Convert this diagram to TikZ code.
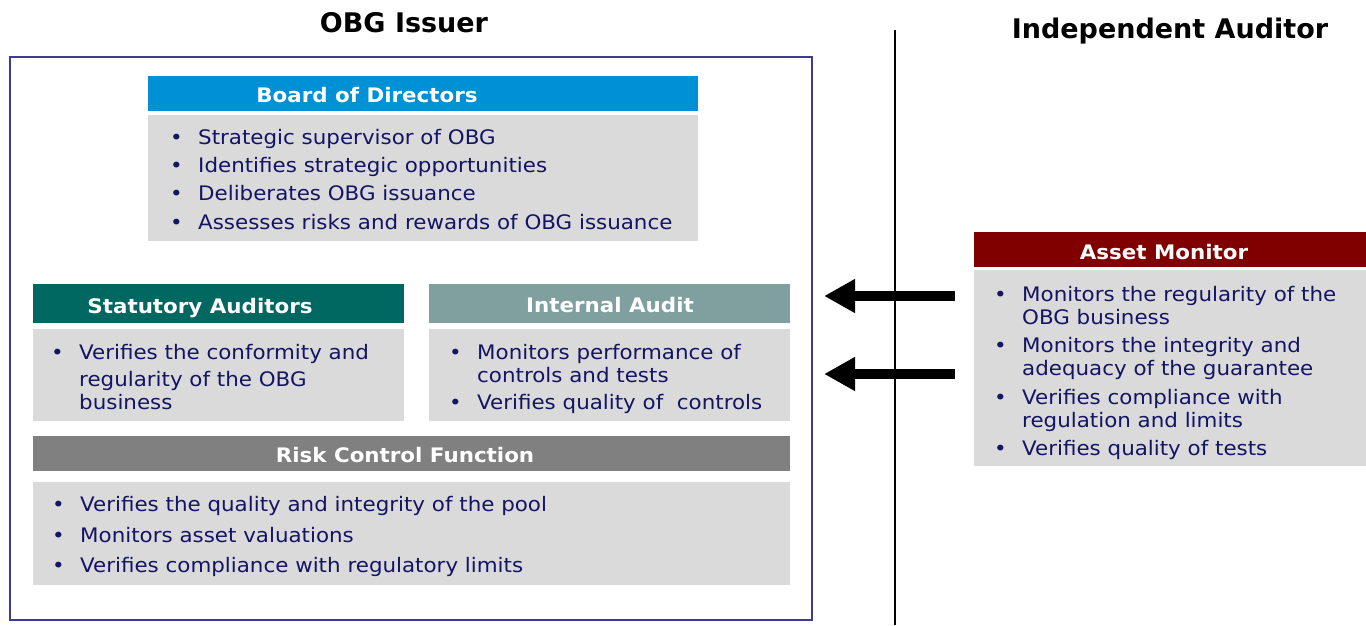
\documentclass[tikz,border=0pt]{standalone}
\usepackage{fontspec}
\setmainfont{DejaVu Sans}[FakeStretch=1.07]
\newfontfamily\titlefont{DejaVu Sans}
\usetikzlibrary{arrows.meta}

\definecolor{frameblue}{RGB}{60,60,150}
\definecolor{boardblue}{RGB}{0,144,214}
\definecolor{statgreen}{RGB}{0,104,96}
\definecolor{auditgrey}{RGB}{128,160,160}
\definecolor{riskgrey}{RGB}{128,128,128}
\definecolor{assetred}{RGB}{128,0,0}
\definecolor{boxgrey}{RGB}{218,218,218}
\definecolor{navy}{RGB}{20,20,100}

\newcommand{\bul}{\makebox[28pt][l]{\textbullet}}
\newcommand{\cont}{\makebox[28pt][l]{}}
\newenvironment{pointlist}{\begin{tabular}[t]{@{}l@{}}}{\end{tabular}}

\tikzset{
  hdr/.style={rectangle, anchor=north west, inner sep=0pt},
  body/.style={rectangle, fill=boxgrey, anchor=north west, inner sep=0pt},
  hdrtxt/.style={anchor=base, text=white, inner sep=0pt, font=\fontsize{20}{23}\selectfont\bfseries},
  pts/.style={anchor=base west, text=navy, inner sep=0pt, font=\fontsize{20}{23}\selectfont},
  ttl/.style={anchor=base, inner sep=0pt, font=\titlefont\fontsize{27}{32}\selectfont\bfseries},
  bigarrow/.style={line width=10pt, -{Triangle[length=31pt,width=32pt]}, shorten >=11pt}
}

\begin{document}
\begin{tikzpicture}[x=1pt,y=-1pt]
\useasboundingbox (0,0) rectangle (1366,625);

% titles and divider
\node[ttl] (ttlissuer) at (404,32) {OBG Issuer};
\node[ttl] (ttlauditor) at (1170,38) {Independent Auditor};
\draw[line width=2pt] (895,30) -- (895,625);

% issuer frame
\node[draw=frameblue, line width=2.2pt, minimum width=802pt, minimum height=563pt, inner sep=0pt] (issuer) at (411,338.5) {};

% board of directors
\node[hdr, fill=boardblue, minimum width=550pt, minimum height=35pt] (bod) at (148,76) {};
\node[hdrtxt] (bodl) at (367,102) {Board of Directors};
\node[body, minimum width=550pt, minimum height=126pt] (bodb) at (148,115) {};
\node[pts] (bodt) at (170,144) {\begin{pointlist}
\bul Strategic supervisor of OBG\\[5pt]
\bul Identifies strategic opportunities\\[5pt]
\bul Deliberates OBG issuance\\[6pt]
\bul Assesses risks and rewards of OBG issuance
\end{pointlist}};

% statutory auditors
\node[hdr, fill=statgreen, minimum width=371pt, minimum height=39pt] (sah) at (33,284) {};
\node[hdrtxt] (sahl) at (200,313) {Statutory Auditors};
\node[body, minimum width=371pt, minimum height=92pt] (sab) at (33,329) {};
\node[pts] (sat) at (51,359) {\begin{pointlist}
\bul Verifies the conformity and\\[4pt]
\cont regularity of the OBG\\
\cont business
\end{pointlist}};

% internal audit
\node[hdr, fill=auditgrey, minimum width=361pt, minimum height=39pt] (iah) at (429,284) {};
\node[hdrtxt] (iahl) at (610,312) {Internal Audit};
\node[body, minimum width=361pt, minimum height=92pt] (iab) at (429,329) {};
\node[pts] (iat) at (449,359) {\begin{pointlist}
\bul Monitors performance of\\
\cont controls and tests\\[4pt]
\bul Verifies quality of\ \ controls
\end{pointlist}};

% risk control function
\node[hdr, fill=riskgrey, minimum width=757pt, minimum height=35pt] (rch) at (33,436) {};
\node[hdrtxt] (rchl) at (405,462) {Risk Control Function};
\node[body, minimum width=757pt, minimum height=103pt] (rcb) at (33,482) {};
\node[pts] (rct) at (52,511) {\begin{pointlist}
\bul Verifies the quality and integrity of the pool\\[8pt]
\bul Monitors asset valuations\\[7pt]
\bul Verifies compliance with regulatory limits
\end{pointlist}};

% asset monitor
\node[hdr, fill=assetred, minimum width=392pt, minimum height=35pt] (amh) at (974,232) {};
\node[hdrtxt] (amhl) at (1164,259) {Asset Monitor};
\node[body, minimum width=392pt, minimum height=196pt] (amb) at (974,270) {};
\node[pts] (amt) at (994,301) {\begin{pointlist}
\bul Monitors the regularity of the\\
\cont OBG business\\[5pt]
\bul Monitors the integrity and\\
\cont adequacy of the guarantee\\[6pt]
\bul Verifies compliance with\\
\cont regulation and limits\\[5pt]
\bul Verifies quality of tests
\end{pointlist}};

% reporting arrows
\coordinate (m1) at (955,296);
\coordinate (m2) at (955,374);
\draw[bigarrow] (m1) -- (m1 -| issuer.east);
\draw[bigarrow] (m2) -- (m2 -| issuer.east);
\end{tikzpicture}
\end{document}
